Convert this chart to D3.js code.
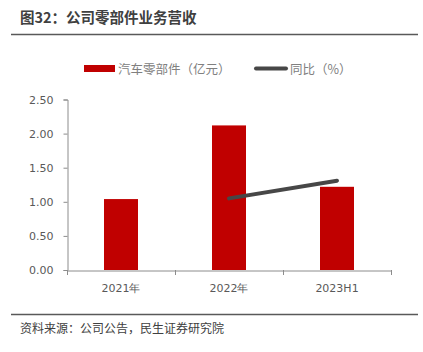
<!DOCTYPE html>
<html><head><meta charset="utf-8">
<script src="https://cdn.jsdelivr.net/npm/d3@7"></script>
<style>body{margin:0;background:#fff}svg{display:block}</style>
</head><body>
<svg id="c" width="423" height="352"></svg>
<script>
const categories = ["2021年", "2022年", "2023H1"];
const revenue = [1.04, 2.12, 1.22];
const yoy = [null, 1.05, 1.31];
const yTicks = [0, 0.5, 1.0, 1.5, 2.0, 2.5];

const svg = d3.select("#c");
const cjk = "'Noto Sans CJK SC', 'Microsoft YaHei', sans-serif";
const num = "'DejaVu Sans', Tahoma, sans-serif";

svg.append("text").attr("x", 20).attr("y", 23).text("图32：公司零部件业务营收")
  .attr("font-family", cjk).attr("font-weight", "bold").attr("font-size", 14.5).attr("fill", "#404040");
svg.append("line").attr("x1", 11).attr("x2", 418).attr("y1", 34.5).attr("y2", 34.5)
  .attr("stroke", "#595959").attr("stroke-width", 1.5);
svg.append("line").attr("x1", 11).attr("x2", 418).attr("y1", 314.5).attr("y2", 314.5)
  .attr("stroke", "#595959").attr("stroke-width", 1.5);
svg.append("text").attr("x", 20).attr("y", 333).text("资料来源：公司公告，民生证券研究院")
  .attr("font-family", cjk).attr("font-size", 12).attr("fill", "#404040");

const x = d3.scaleBand().domain(categories).range([67, 391]).paddingInner(0).paddingOuter(0);
const y = d3.scaleLinear().domain([0, 2.5]).range([270, 99.5]);

const yAxis = d3.axisLeft(y).tickValues(yTicks).tickFormat(d3.format(".2f")).tickSize(4).tickPadding(10);
const gy = svg.append("g").attr("transform", "translate(67.5,0)").call(yAxis);
gy.select(".domain").attr("stroke", "#8c8c8c");
gy.selectAll(".tick line").attr("stroke", "#8c8c8c");
gy.selectAll("text").attr("font-family", num).attr("font-size", 11).attr("fill", "#595959");

const xAxis = d3.axisBottom(x).tickSize(0).tickPadding(14);
const gx = svg.append("g").attr("transform", "translate(0,270.5)").call(xAxis);
gx.select(".domain").attr("stroke", "#8c8c8c");
gx.selectAll("text").attr("font-family", num).attr("font-size", 11).attr("fill", "#595959");
// boundary tick marks
const bounds = categories.map(c => x(c)).concat([x.range()[1]]);
svg.append("g").selectAll("line").data(bounds).join("line")
  .attr("x1", d => d + 0.5).attr("x2", d => d + 0.5).attr("y1", 270).attr("y2", 275)
  .attr("stroke", "#8c8c8c");

const bw = 34;
svg.append("g").selectAll("rect").data(categories).join("rect")
  .attr("x", d => x(d) + x.bandwidth() / 2 - bw / 2)
  .attr("width", bw)
  .attr("y", (d, i) => y(revenue[i]))
  .attr("height", (d, i) => y(0) - y(revenue[i]))
  .attr("fill", "#C00000");

const pts = categories.map((c, i) => [x(c) + x.bandwidth() / 2, yoy[i]]).filter(p => p[1] != null);
svg.append("path").datum(pts)
  .attr("d", d3.line().x(p => p[0]).y(p => y(p[1])))
  .attr("fill", "none").attr("stroke", "#474747").attr("stroke-width", 4).attr("stroke-linecap", "round");

// legend
svg.append("rect").attr("x", 84).attr("y", 65).attr("width", 31).attr("height", 7).attr("fill", "#C00000");
svg.append("text").attr("x", 118).attr("y", 73.5).text("汽车零部件（亿元）")
  .attr("font-family", cjk).attr("font-size", 12.5).attr("fill", "#808080");
svg.append("line").attr("x1", 256).attr("x2", 286).attr("y1", 68.5).attr("y2", 68.5)
  .attr("stroke", "#474747").attr("stroke-width", 4).attr("stroke-linecap", "round");
svg.append("text").attr("x", 290).attr("y", 73.5).text("同比（%）")
  .attr("font-family", cjk).attr("font-size", 12.5).attr("fill", "#808080");
</script>
</body></html>
